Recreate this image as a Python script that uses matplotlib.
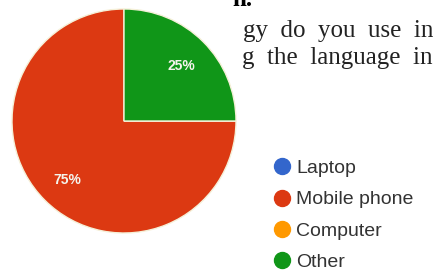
import matplotlib
matplotlib.use("Agg")
import matplotlib.pyplot as plt
from matplotlib.lines import Line2D

categories = ["Laptop", "Mobile phone", "Computer", "Other"]
values = [0, 75, 0, 25]
colors = ["#3366cc", "#dc3912", "#ff9900", "#109618"]
doc_lines = ["n.", "gy  do  you  use  in", "g  the  language  in"]

W, H = 437, 274
fig = plt.figure(figsize=(W / 100, H / 100), dpi=100)
fig.patch.set_facecolor("white")

# pie axes: center ~ (124,121) px, radius ~112 px
cx, cy, r = 124, 121, 112
ax = fig.add_axes([(cx - r) / W, (H - cy - r) / H, 2 * r / W, 2 * r / H])


def fmt(p):
    return f"{p:.0f}%" if p > 0.5 else ""


wedges, texts, autotexts = ax.pie(
    values, colors=colors, startangle=90, counterclock=True, radius=1,
    autopct=fmt, pctdistance=0.72,
    wedgeprops=dict(edgecolor="#f5f0d8", linewidth=1.0),
    textprops=dict(color="#f4f4ec", fontsize=10, family="Liberation Sans",
                   fontweight="bold"),
)
for t in autotexts:
    x, y = t.get_position()
    t.set_position((x, y - 0.02))
ax.set_xlim(-1.0, 1.0)
ax.set_ylim(-1.0, 1.0)
ax.axis("off")

# document text (serif) in the top right
fig.text(232 / W, 1 - (-1) / H, doc_lines[0], family="Liberation Serif",
         fontweight="bold", fontsize=18, va="center", ha="left", color="black")
fig.text(433 / W, 1 - 31 / H, doc_lines[1], family="Liberation Serif",
         fontsize=18, va="center", ha="right", color="#222222")
fig.text(433 / W, 1 - 58 / H, doc_lines[2], family="Liberation Serif",
         fontsize=18, va="center", ha="right", color="#222222")

handles = [Line2D([0], [0], marker="o", linestyle="none", markersize=11.5,
                  markerfacecolor=c, markeredgecolor=c) for c in colors]
leg = fig.legend(handles, categories, loc="upper left",
                 bbox_to_anchor=(274 / W, 1 - 159.5 / H), frameon=False,
                 prop=dict(family="Liberation Sans", size=14),
                 handletextpad=0.35, labelspacing=0.7, handlelength=0.8,
                 borderpad=0, borderaxespad=0)
for t in leg.get_texts():
    t.set_color("#333333")

fig.savefig("out.png", dpi=100, facecolor="white")
